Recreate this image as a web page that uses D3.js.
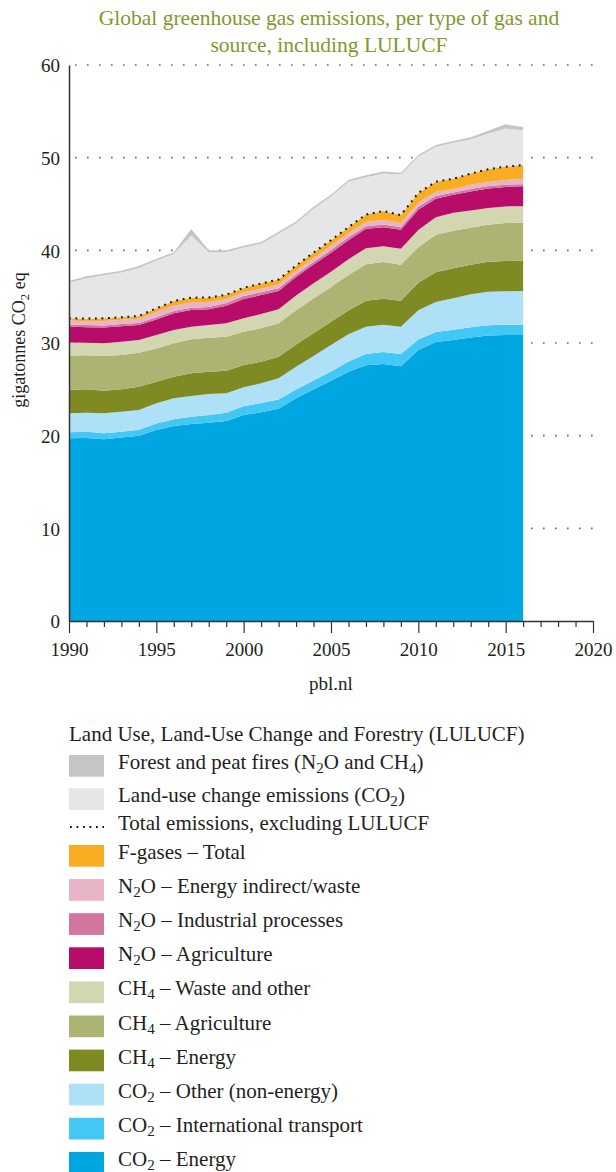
<!DOCTYPE html>
<html>
<head>
<meta charset="utf-8">
<script src="https://cdn.jsdelivr.net/npm/d3@7"></script>
<style>
  body { margin: 0; background: #fff; }
  svg text { font-family: "Liberation Serif", "DejaVu Serif", serif; fill: #231f20; }
</style>
</head>
<body>
<div id="chart"></div>
<script>
// Global greenhouse gas emissions per type of gas and source (gigatonnes CO2 eq)

const years = [1990,1991,1992,1993,1994,1995,1996,1997,1998,1999,2000,2001,2002,2003,
               2004,2005,2006,2007,2008,2009,2010,2011,2012,2013,2014,2015,2016];

const co2Energy   = [19.72,19.75,19.61,19.80,20.00,20.60,21.04,21.26,21.40,21.58,22.23,22.52,22.91,24.03,25.00,25.93,26.90,27.60,27.73,27.50,29.24,30.10,30.32,30.60,30.80,30.85,30.85];
const co2Intl     = [0.65,0.68,0.64,0.63,0.65,0.70,0.72,0.79,0.83,0.90,0.95,1.00,1.00,0.95,0.95,1.00,1.10,1.20,1.30,1.30,1.15,1.10,1.12,1.10,1.12,1.12,1.12];
const co2Other    = [2.05,2.05,2.16,2.16,2.12,2.19,2.27,2.23,2.27,2.09,2.04,2.13,2.28,2.45,2.65,2.85,2.95,2.95,2.95,2.95,3.15,3.23,3.38,3.55,3.60,3.62,3.65];
const ch4Energy   = [2.52,2.52,2.45,2.41,2.52,2.34,2.33,2.45,2.40,2.44,2.41,2.33,2.33,2.40,2.45,2.50,2.55,2.80,2.80,2.80,2.95,3.20,3.24,3.20,3.25,3.25,3.25];
const ch4Agri     = [3.70,3.67,3.74,3.71,3.67,3.59,3.60,3.67,3.67,3.67,3.59,3.60,3.60,3.70,3.75,3.75,3.85,3.95,3.95,3.90,3.85,4.05,4.06,4.00,4.00,4.10,4.10];
const ch4Waste    = [1.41,1.37,1.36,1.43,1.36,1.44,1.44,1.36,1.37,1.44,1.44,1.55,1.52,1.60,1.65,1.65,1.70,1.72,1.72,1.72,1.85,1.90,1.94,1.85,1.80,1.80,1.80];
const n2oAgri     = [1.72,1.65,1.70,1.68,1.62,1.68,1.80,1.80,1.70,1.91,2.09,2.05,1.97,1.98,2.02,2.05,2.05,2.10,2.05,2.05,2.20,2.00,1.93,2.05,2.10,2.10,2.15];
const n2oInd      = [0.22,0.24,0.24,0.23,0.23,0.25,0.25,0.25,0.24,0.30,0.32,0.29,0.29,0.28,0.28,0.30,0.30,0.28,0.30,0.28,0.30,0.28,0.26,0.28,0.28,0.25,0.20];
const n2oIndirect = [0.43,0.43,0.48,0.45,0.45,0.55,0.58,0.58,0.55,0.40,0.40,0.38,0.40,0.42,0.42,0.47,0.45,0.46,0.50,0.45,0.45,0.45,0.35,0.45,0.43,0.50,0.58];
const fGases      = [0.26,0.27,0.28,0.28,0.30,0.40,0.50,0.50,0.48,0.47,0.50,0.57,0.55,0.55,0.58,0.60,0.65,0.80,0.94,0.85,1.06,1.10,1.12,1.20,1.37,1.44,1.50];
const landUse     = [3.82,4.37,4.64,4.82,5.18,5.16,5.07,6.71,4.89,4.60,4.33,4.28,4.95,4.54,4.75,4.70,4.90,4.04,4.06,4.38,3.90,3.76,3.88,3.72,3.85,4.12,3.75];
const fires       = [0.20,0.20,0.20,0.20,0.20,0.20,0.20,0.70,0.20,0.20,0.20,0.20,0.20,0.20,0.20,0.20,0.20,0.20,0.20,0.20,0.20,0.20,0.20,0.20,0.30,0.45,0.35];

// stacking order, bottom to top
const keys = ['co2Energy','co2Intl','co2Other','ch4Energy','ch4Agri','ch4Waste',
              'n2oAgri','n2oInd','n2oIndirect','fGases','landUse','fires'];
const series = {co2Energy, co2Intl, co2Other, ch4Energy, ch4Agri, ch4Waste,
                n2oAgri, n2oInd, n2oIndirect, fGases, landUse, fires};

const labels = {
    fires: 'Forest and peat fires (N_2O and CH_4)',
    landUse: 'Land-use change emissions (CO_2)',
    total: 'Total emissions, excluding LULUCF',
    fGases: 'F-gases – Total',
    n2oIndirect: 'N_2O – Energy indirect/waste',
    n2oInd: 'N_2O – Industrial processes',
    n2oAgri: 'N_2O – Agriculture',
    ch4Waste: 'CH_4 – Waste and other',
    ch4Agri: 'CH_4 – Agriculture',
    ch4Energy: 'CH_4 – Energy',
    co2Other: 'CO_2 – Other (non-energy)',
    co2Intl: 'CO_2 – International transport',
    co2Energy: 'CO_2 – Energy'
};
const legendOrder = ['fires','landUse','total','fGases','n2oIndirect','n2oInd','n2oAgri',
                     'ch4Waste','ch4Agri','ch4Energy','co2Other','co2Intl','co2Energy'];

const colors = {
    co2Energy: '#00a6e2', co2Intl: '#43c7f4', co2Other: '#aee0f7',
    ch4Energy: '#7f8b22', ch4Agri: '#adb373', ch4Waste: '#d3d7b1',
    n2oAgri: '#b70c69', n2oInd: '#d2759f', n2oIndirect: '#e8b5c8',
    fGases: '#f9ad22', landUse: '#e5e6e8', fires: '#c4c5c7'
};

const yTicks = [0,10,20,30,40,50,60];

//Dimensions
const W = 616, H = 1172;
const margin = {left: 69, right: 23, top: 65, bottom: 551};

const svg = d3.select('#chart').append('svg')
    .attr('width', W)
    .attr('height', H);

const x = d3.scaleLinear().domain([1990, 2020]).range([margin.left, W - margin.right]);
const y = d3.scaleLinear().domain([0, 60]).range([H - margin.bottom, margin.top]);

// table for d3.stack
const table = years.map((yr, i) => {
    const row = {year: yr};
    keys.forEach(k => row[k] = series[k][i]);
    return row;
});
const stacked = d3.stack().keys(keys)(table);

/*##### Title #####*/
const title = ['Global greenhouse gas emissions, per type of gas and', 'source, including LULUCF'];
svg.selectAll('.title')
    .data(title)
    .join('text')
    .attr('class', 'title')
    .attr('x', 329)
    .attr('y', (d, i) => 25 + i * 27)
    .attr('text-anchor', 'middle')
    .style('font-size', '21.5px')
    .style('fill', '#7d9a2b')
    .text(d => d);

/*##### Gridlines (dotted) #####*/
svg.append('g')
    .selectAll('line')
    .data(yTicks.filter(d => d > 0))
    .join('line')
    .attr('x1', x(1990) + 6)
    .attr('x2', W - 14)
    .attr('y1', d => y(d))
    .attr('y2', d => y(d))
    .attr('stroke', '#666')
    .attr('stroke-width', 1.6)
    .attr('stroke-dasharray', '1.6,10.4');

/*##### Areas #####*/
const area = d3.area()
    .x(d => x(d.data.year))
    .y0(d => y(d[0]))
    .y1(d => y(d[1]));

svg.append('g')
    .selectAll('path')
    .data(stacked)
    .join('path')
    .attr('fill', d => colors[d.key])
    .attr('d', area);

// total excluding LULUCF: top of the F-gases layer
const fLayer = stacked[keys.indexOf('fGases')];
svg.append('path')
    .datum(fLayer)
    .attr('fill', 'none')
    .attr('stroke', '#111')
    .attr('stroke-width', 2)
    .attr('stroke-dasharray', '1.8,4.7')
    .attr('d', d3.line().x(d => x(d.data.year)).y(d => y(d[1])));

/*##### Axes #####*/
const yAxis = svg.append('g')
    .attr('transform', 'translate(' + x(1990) + ',0)')
    .call(d3.axisLeft(y).tickValues(yTicks).tickSize(0).tickPadding(9));
yAxis.select('.domain').attr('stroke', '#333').attr('stroke-width', 1.5);
yAxis.selectAll('text').style('font-size', '19px').attr('dy', '0.36em')
    .style('font-family', '"Liberation Serif", serif').style('fill', '#231f20');

const xAxis = svg.append('g')
    .attr('transform', 'translate(0,' + y(0) + ')')
    .call(d3.axisBottom(x)
        .tickValues(d3.range(1990, 2021))
        .tickSize(6)
        .tickSizeOuter(0)
        .tickFormat(d => d % 5 === 0 ? d : ''));
xAxis.select('.domain').attr('stroke', '#333').attr('stroke-width', 1.5);
xAxis.selectAll('.tick line').attr('stroke', '#333').attr('stroke-width', 1.2)
    .attr('y2', d => d % 5 === 0 ? 12 : 6);
xAxis.selectAll('text').attr('y', 22).attr('dy', '0.71em')
    .style('font-size', '19px')
    .style('font-family', '"Liberation Serif", serif').style('fill', '#231f20');

svg.append('text')
    .attr('x', 331)
    .attr('y', 690)
    .attr('text-anchor', 'middle')
    .style('font-size', '19px')
    .text('pbl.nl');

// text with subscripts ("_2" -> subscript 2)
function richText(sel, str, size) {
    const parts = str.split(/_(\d)/);
    let shifted = false;
    parts.forEach((p, i) => {
        if (p === '') return;
        const ts = sel.append('tspan').text(p);
        if (i % 2 === 1) {
            ts.attr('dy', 4).style('font-size', (size * 0.72) + 'px');
            shifted = true;
        } else if (shifted) {
            ts.attr('dy', -4);
            shifted = false;
        }
    });
}

const yLabel = svg.append('text')
    .attr('transform', 'translate(25,' + 340 + ') rotate(-90)')
    .attr('text-anchor', 'middle')
    .style('font-size', '18px');
richText(yLabel, 'gigatonnes CO_2 eq', 18);

/*##### Legend #####*/
const legend = svg.append('g');
legend.append('text')
    .attr('x', 69)
    .attr('y', 741)
    .style('font-size', '21px')
    .text('Land Use, Land-Use Change and Forestry (LULUCF)');

function rowTop(i) {
    if (i < 2) return 755 + i * 33.3;
    if (i === 2) return 816;
    return 845 + (i - 3) * 34.1;
}

legendOrder.forEach((k, i) => {
    const top = rowTop(i);
    if (k === 'total') {
        legend.append('line')
            .attr('x1', 70).attr('x2', 104)
            .attr('y1', top + 11).attr('y2', top + 11)
            .attr('stroke', '#111').attr('stroke-width', 2)
            .attr('stroke-dasharray', '1.8,4.7');
    } else {
        legend.append('rect')
            .attr('x', 69).attr('y', top)
            .attr('width', 35).attr('height', 21.7)
            .attr('fill', colors[k]);
    }
    const t = legend.append('text')
        .attr('x', 118)
        .attr('y', top + 14)
        .style('font-size', '21px');
    richText(t, labels[k], 21);
});
</script>
</body>
</html>
